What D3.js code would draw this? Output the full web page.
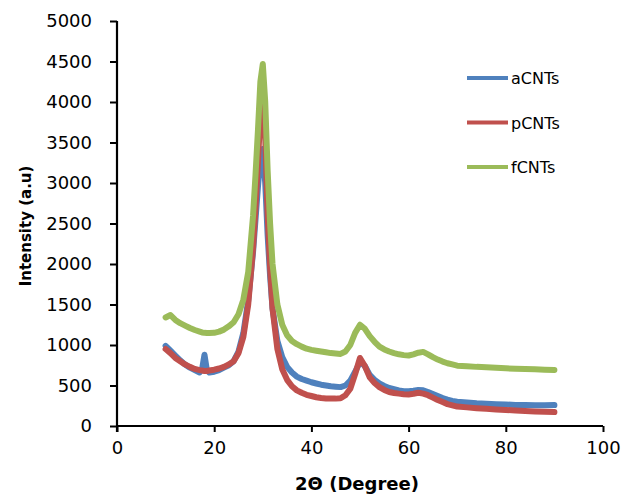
<!DOCTYPE html>
<html>
<head>
<meta charset="utf-8">
<script src="https://cdnjs.cloudflare.com/ajax/libs/d3/7.8.5/d3.min.js"></script>
<style>
  body { margin: 0; background: #fff; }
  text { font-family: "DejaVu Sans", sans-serif; fill: #000; }
</style>
</head>
<body>
<div id="chart"></div>
<script>
// 2-theta positions (degrees), shared by all three scans
const twoTheta = [10,11,12,13,14,15,16,17,17.5,18,18.5,19,20,21,22,23,24,25,26,27,28,28.5,29,29.5,30,30.5,31,31.5,
  32,33,34,35,36,37,38,39,40,41,42,43,44,45,46,47,48,49,50,51,52,53,54,55,56,57,58,59,60,61,62,63,64,65,66,67,68,69,70,
  72,74,76,78,80,82,84,86,88,90];

const aCNTs = [990,930,870,810,760,720,690,660,700,880,690,660,670,690,720,750,800,920,1150,1550,2150,2550,2950,3300,3420,3000,2350,1850,
  1450,1050,850,730,660,610,580,560,540,525,510,500,490,485,480,500,560,670,790,740,630,570,525,495,470,455,440,430,430,435,445,440,420,395,370,345,325,310,300,
  290,280,275,270,265,260,258,255,255,258];

const pCNTs = [950,900,840,800,760,730,705,690,685,680,680,685,695,710,730,760,800,900,1100,1500,2200,2700,3250,3850,4150,3550,2600,1950,
  1450,950,700,570,490,440,410,385,370,355,345,340,338,338,342,380,460,640,840,740,600,530,480,445,420,408,400,392,390,398,410,400,380,350,320,295,270,255,240,
  230,220,212,205,198,192,186,180,176,172];

const fCNTs = [1340,1370,1310,1270,1240,1210,1185,1165,1155,1150,1148,1148,1150,1165,1190,1230,1280,1380,1560,1900,2600,3100,3650,4250,4470,4000,3150,2500,
  2000,1500,1250,1120,1050,1010,980,955,940,930,920,910,900,895,890,920,1000,1150,1250,1200,1110,1040,980,945,920,900,885,875,870,885,905,915,885,850,820,795,775,760,745,
  738,730,725,718,712,708,703,700,695,692];

const seriesNames = ["aCNTs", "pCNTs", "fCNTs"];
const seriesColors = ["#4F81BD", "#C0504D", "#9BBB59"];
const xTicks = [0, 20, 40, 60, 80, 100];
const yTicks = [0, 500, 1000, 1500, 2000, 2500, 3000, 3500, 4000, 4500, 5000];

const width = 634, height = 496;
const svg = d3.select("#chart").append("svg")
  .attr("width", width).attr("height", height);

const x = d3.scaleLinear().domain([0, 100]).range([117, 603]);
const y = d3.scaleLinear().domain([0, 5000]).range([426, 21]);

// axes
const xAxis = svg.append("g")
  .attr("transform", `translate(0, ${y(0)})`)
  .call(d3.axisBottom(x).tickValues(xTicks).tickFormat(d3.format("d")).tickSize(6).tickPadding(9));
const yAxis = svg.append("g")
  .attr("transform", `translate(${x(0)}, 0)`)
  .call(d3.axisLeft(y).tickValues(yTicks).tickFormat(d3.format("d")).tickSize(7).tickPadding(18));

[xAxis, yAxis].forEach(a => {
  a.select(".domain").attr("stroke", "#000").attr("stroke-width", 2.2);
  a.selectAll(".tick line").attr("stroke", "#000").attr("stroke-width", 2);
  a.selectAll(".tick text").style("font-size", "18px").attr("fill", "#000")
    .style("font-family", "DejaVu Sans, sans-serif");
});
xAxis.select(".domain").attr("d", `M${x(0)},0H${x(100)}`);
yAxis.select(".domain").attr("d", `M0,${y(5000)}V${y(0) + 6}`);

// data lines
const line = d3.line()
  .x((d, i) => x(twoTheta[i]))
  .y(d => y(d));

[aCNTs, pCNTs, fCNTs].forEach((vals, k) => {
  svg.append("path")
    .datum(vals)
    .attr("fill", "none")
    .attr("stroke", seriesColors[k])
    .attr("stroke-width", 6)
    .attr("stroke-linejoin", "round")
    .attr("stroke-linecap", "round")
    .attr("d", line);
});

// legend
const legend = svg.append("g");
seriesNames.forEach((name, k) => {
  const ly = 78 + k * 44.5;
  legend.append("line")
    .attr("x1", 467).attr("x2", 508).attr("y1", ly).attr("y2", ly)
    .attr("stroke", seriesColors[k]).attr("stroke-width", 4);
  legend.append("text")
    .attr("x", 511).attr("y", ly + 6)
    .style("font-size", "16px")
    .text(name);
});

// axis titles
svg.append("text")
  .attr("transform", "translate(31, 226) rotate(-90)")
  .attr("text-anchor", "middle")
  .style("font-size", "15px").style("font-weight", "bold")
  .text("Intensity (a.u)");

svg.append("text")
  .attr("x", 357).attr("y", 490)
  .attr("text-anchor", "middle")
  .style("font-size", "18px").style("font-weight", "bold")
  .text("2Θ (Degree)");
</script>
</body>
</html>
